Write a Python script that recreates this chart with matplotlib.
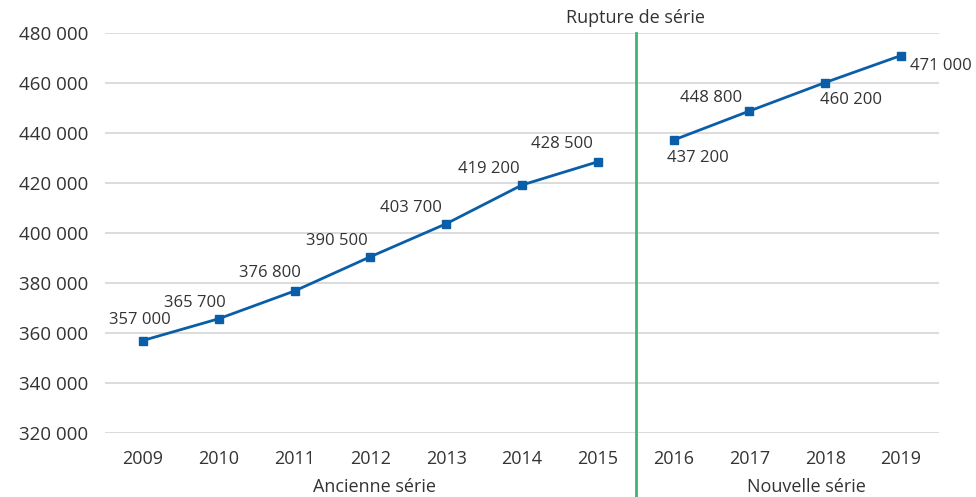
import matplotlib
matplotlib.use("Agg")
import matplotlib.pyplot as plt

years = ["2009", "2010", "2011", "2012", "2013", "2014", "2015", "2016", "2017", "2018", "2019"]
old_series = [357000, 365700, 376800, 390500, 403700, 419200, 428500]
new_series = [437200, 448800, 460200, 471000]
yticks = [320000, 340000, 360000, 380000, 400000, 420000, 440000, 460000, 480000]
break_label = "Rupture de série"
group_labels = ["Ancienne série", "Nouvelle série"]

# label offsets in pixels (dx, dy) and alignment
old_offsets = [(-3, 20), (-24, 16), (-25, 18), (-33, 16), (-35, 16), (-33, 16), (-36, 18)]
new_offsets = [(24, -18), (-38, 13), (26, -18), (9, -10)]
new_ha = ["center", "center", "center", "left"]

plt.rcParams['font.family'] = ['Open Sans', 'DejaVu Sans']
text_color = "#333333"
line_color = "#0a5ea8"
green = "#3fb470"

fig = plt.figure(figsize=(9.76, 4.97), dpi=100)
ax = fig.add_axes([105/976, 1 - 433/497, (939-105)/976, (433-33)/497])

x_old = list(range(len(old_series)))
x_new = list(range(len(old_series), len(old_series) + len(new_series)))

ax.plot(x_old, old_series, color=line_color, lw=2, marker='s', ms=5.8, zorder=3)
ax.plot(x_new, new_series, color=line_color, lw=2, marker='s', ms=5.8, zorder=3)

def fmt(v):
    return f"{v:,}".replace(",", " ")

for x, v, (dx, dy) in zip(x_old, old_series, old_offsets):
    ax.annotate(fmt(v), (x, v), xytext=(dx, dy), textcoords='offset pixels',
                ha='center', va='center', fontsize=12, color=text_color)
for x, v, (dx, dy), ha in zip(x_new, new_series, new_offsets, new_ha):
    ax.annotate(fmt(v), (x, v), xytext=(dx, dy), textcoords='offset pixels',
                ha=ha, va='center', fontsize=12, color=text_color)

ax.set_xlim(-0.5, len(years) - 0.5)
ax.set_ylim(yticks[0], yticks[-1])
ax.set_yticks(yticks)
ax.set_yticklabels([fmt(v) for v in yticks], fontsize=13.5, color=text_color)
ax.set_xticks(range(len(years)))
ax.set_xticklabels(years, fontsize=13, color=text_color)
ax.tick_params(axis='both', length=0)
ax.tick_params(axis='y', pad=12)
ax.tick_params(axis='x', pad=12)
ax.grid(axis='y', color='#d9d9d9', lw=1.3)
ax.set_axisbelow(True)
for s in ax.spines.values():
    s.set_visible(False)

brk = len(old_series) - 0.5
ax.plot([brk, brk], [-0.2, 1], transform=ax.get_xaxis_transform(), color=green,
        lw=2, clip_on=False, zorder=2)

ax.text(brk, 1.0 + 15/400, break_label, transform=ax.get_xaxis_transform(),
        ha='center', va='center', fontsize=13, color=text_color)

ax.text((x_old[0] + x_old[-1]) / 2 + 0.05, -54/400, group_labels[0], transform=ax.get_xaxis_transform(),
        ha='center', va='center', fontsize=13, color=text_color)
ax.text(8.75, -54/400, group_labels[1], transform=ax.get_xaxis_transform(),
        ha='center', va='center', fontsize=13, color=text_color)

fig.savefig("out.png", dpi=100)
